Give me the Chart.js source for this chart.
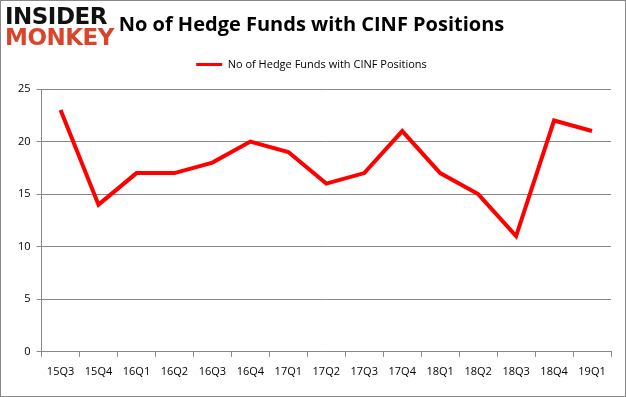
<!DOCTYPE html>
<html>
<head>
<meta charset="utf-8">
<script src="https://cdn.jsdelivr.net/npm/chart.js@4.4.0/dist/chart.umd.min.js"></script>
<style>
  html, body { margin: 0; padding: 0; background: #fff; }
  #wrap { position: relative; width: 626px; height: 397px; box-sizing: border-box; border: 1px solid #888; }
  #logo { position: absolute; left: 4px; top: 5px; font-family: "DejaVu Sans", sans-serif; font-weight: bold; line-height: 21px; font-size: 23px; letter-spacing: -0.5px; }
  #logo .a { color: #111; }
  #logo .b { color: #d9442b; }
  canvas { position: absolute; left: 0; top: 0; }
</style>
</head>
<body>
<div id="wrap">
  <canvas id="myChart" width="624" height="395"></canvas>
  <div id="logo"><div class="a">INSIDER</div><div class="b">MONKEY</div></div>
</div>
<script>
// quarters on the x axis
const quarters = ['15Q3', '15Q4', '16Q1', '16Q2', '16Q3', '16Q4', '17Q1', '17Q2', '17Q3', '17Q4', '18Q1', '18Q2', '18Q3', '18Q4', '19Q1'];
// number of funds holding CINF
const fundCounts = [23, 14, 17, 17, 18, 20, 19, 16, 17, 21, 17, 15, 11, 22, 21];
const yTicks = [0, 5, 10, 15, 20, 25];

const fontFamily = '"Open Sans", "Liberation Sans", sans-serif';

const ctx = document.getElementById('myChart').getContext('2d');
new Chart(ctx, {
    type: 'line',
    data: {
        labels: quarters,
        datasets: [{
            label: 'No of Hedge Funds with CINF Positions',
            data: fundCounts,
            borderColor: '#ff0000',
            backgroundColor: '#ff0000',
            borderWidth: 4,
            pointRadius: 0,
            tension: 0,
            fill: false
        }]
    },
    options: {
        responsive: false,
        animation: false,
        layout: { padding: { left: 11, right: 14, top: 0, bottom: 10 } },
        plugins: {
            title: {
                display: true,
                text: 'No of Hedge Funds with CINF Positions',
                color: '#000',
                font: { family: '"Open Sans", "Liberation Sans", sans-serif', size: 20, weight: 'bold' },
                padding: { top: 12, bottom: 10 }
            },
            legend: {
                display: true,
                labels: {
                    color: '#000',
                    font: { family: fontFamily, size: 11 },
                    boxWidth: 26,
                    boxHeight: 0,
                    padding: 12,
                    generateLabels: (chart) => [{
                        text: chart.data.datasets[0].label,
                        strokeStyle: '#ff0000',
                        fillStyle: '#ff0000',
                        lineWidth: 3,
                        datasetIndex: 0
                    }]
                }
            },
            tooltip: { enabled: false }
        },
        scales: {
            x: {
                type: 'category',
                offset: true,
                grid: {
                    offset: true,
                    drawOnChartArea: false,
                    drawTicks: true,
                    tickLength: 5,
                    color: '#888'
                },
                border: { color: '#888' },
                ticks: { autoSkip: false, maxRotation: 0, color: '#000', font: { family: fontFamily, size: 11 }, padding: 8 }
            },
            y: {
                min: 0,
                max: 25,
                afterBuildTicks: (axis) => { axis.ticks = yTicks.map(v => ({ value: v })); },
                grid: { color: '#888', tickLength: 5 },
                border: { color: '#888' },
                ticks: { color: '#000', font: { family: fontFamily, size: 11 }, padding: 6 }
            }
        }
    },
    plugins: [{
        id: 'legendGap',
        beforeInit(chart) {
            const origFit = chart.legend.fit;
            chart.legend.fit = function () {
                origFit.call(this);
                this.height += 9;
            };
        }
    }]
});
</script>
</body>
</html>
